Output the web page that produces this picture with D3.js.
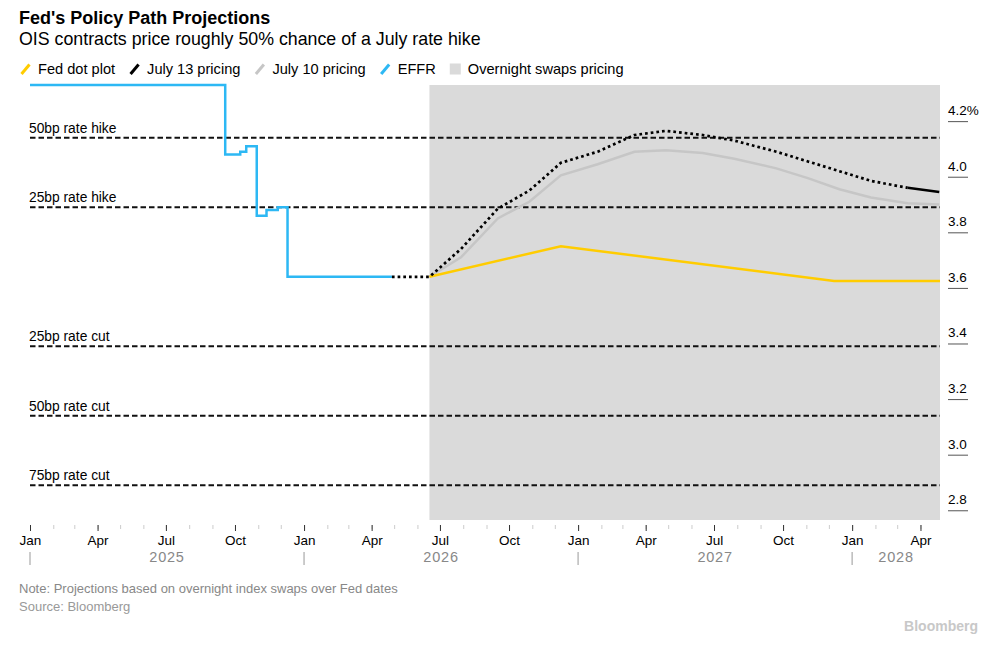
<!DOCTYPE html>
<html>
<head>
<meta charset="utf-8">
<script src="https://cdn.jsdelivr.net/npm/d3@7"></script>
<style>
    body { margin: 0; background: #fff; }
    svg text { font-family: "Liberation Sans", Arial, sans-serif; }
</style>
</head>
<body>
<div id="chart"></div>
<script>
/*
 * Effective fed funds rate, step values (value holds from date to next date).
 */
var effrDates  = ['2025-01-01', '2025-09-18', '2025-10-08', '2025-10-16', '2025-10-30',
                  '2025-11-12', '2025-11-27', '2025-12-10', '2026-04-28'];
var effrValues = [4.33, 4.08, 4.09, 4.11, 3.86, 3.88, 3.89, 3.64, 3.64];
/*
 * Overnight swaps pricing over FOMC meeting dates.
 */
var meetingDates = ['2026-06-17', '2026-07-29', '2026-09-16', '2026-10-28', '2026-12-09',
                    '2027-01-27', '2027-03-17', '2027-04-28', '2027-06-16', '2027-07-28',
                    '2027-09-22', '2027-11-03', '2027-12-15', '2028-01-26', '2028-03-15',
                    '2028-04-26'];
var july13Values = [3.64, 3.74, 3.885, 3.95, 4.05, 4.09, 4.15, 4.165, 4.15, 4.13,
                    4.09, 4.055, 4.02, 3.985, 3.96, 3.945];
var july10Values = [3.64, 3.71, 3.85, 3.91, 4.005, 4.045, 4.09, 4.095, 4.085, 4.065,
                    4.03, 3.995, 3.955, 3.925, 3.905, 3.90];
/*
 * Fed dot plot medians.
 */
var dotPlotDates  = ['2026-06-17', '2026-12-09', '2027-12-08', '2028-04-27'];
var dotPlotValues = [3.64, 3.75, 3.625, 3.625];
/*
 * Rate move reference levels relative to the current rate.
 */
var currentRate = 3.64;
var moveSizes   = [0.5, 0.25, -0.25, -0.5, -0.75];
var moveLabels  = ['50bp rate hike', '25bp rate hike', '25bp rate cut', '50bp rate cut', '75bp rate cut'];
/*
 * Axes.
 */
var xDomain = ['2025-01-01', '2028-04-27'];
var yDomain = [2.765, 4.33];
var yTicks  = [2.8, 3.0, 3.2, 3.4, 3.6, 3.8, 4.0, 4.2];
var years   = [2025, 2026, 2027, 2028];
var swapsStart = '2026-06-17';
var solidFrom  = '2028-03-15';
var legendLabels = ['Fed dot plot', 'July 13 pricing', 'July 10 pricing', 'EFFR', 'Overnight swaps pricing'];


/**
 * Policy path chart.
 * @public
 * @class
 */
function PolicyPathChart() {
    /**
     * Date parser.
     * @private
     * @member {Function}
     */
    this._parse = d3.timeParse('%Y-%m-%d');
    /**
     * Outer size.
     * @private
     * @member {Object}
     */
    this._size = { width: 994, height: 647 };
    /**
     * Plot box.
     * @private
     * @member {Object}
     */
    this._plot = { left: 30, right: 940, top: 85, bottom: 520 };
    /**
     * Series colors.
     * @private
     * @member {Object}
     */
    this._colors = {
        dot:   '#ffcc00',
        july13:'#000000',
        july10:'#c6c6c6',
        effr:  '#2db8f4',
        swaps: '#dadada'
    };
    /**
     * Scales.
     * @private
     */
    this._x = d3.scaleTime()
        .domain(xDomain.map(this._parse))
        .range([this._plot.left, this._plot.right]);
    this._y = d3.scaleLinear()
        .domain(yDomain)
        .range([this._plot.bottom, this._plot.top]);
    /**
     * Line generator.
     * @private
     * @member {Function}
     */
    this._line = d3.line()
        .x(d => this._x(d.date))
        .y(d => this._y(d.value));
}


/**
 * Zip dates and values into points.
 * @private
 * @returns {Object[]}
 */
PolicyPathChart.prototype._points = function(dates, values) {

    return dates.map((d, i) => ({ date: this._parse(d), value: values[i] }));
};


/**
 * Render chart.
 * @public
 * @param {String} selection
 * @returns {PolicyPathChart}
 */
PolicyPathChart.prototype.renderTo = function(selection) {

    var x = this._x, y = this._y, p = this._plot;

    this._svg = d3.select(selection).append('svg')
        .attr('width', this._size.width)
        .attr('height', this._size.height);
    /*
     * Titles.
     */
    this._svg.append('text')
        .attr('x', 19).attr('y', 24)
        .style('font-size', '18px').style('font-weight', 'bold')
        .text("Fed's Policy Path Projections");
    this._svg.append('text')
        .attr('x', 19).attr('y', 45)
        .style('font-size', '17.8px')
        .text('OIS contracts price roughly 50% chance of a July rate hike');
    /*
     * Legend.
     */
    this._renderLegend();
    /*
     * Shaded overnight swaps pricing area.
     */
    var swapsX = x(this._parse(swapsStart));
    this._svg.append('rect')
        .attr('x', swapsX).attr('y', p.top)
        .attr('width', p.right - swapsX).attr('height', p.bottom - p.top)
        .attr('fill', this._colors.swaps);
    /*
     * Rate move reference lines.
     */
    var refs = this._svg.append('g').selectAll('g')
        .data(moveSizes)
        .join('g')
        .attr('transform', d => 'translate(0,' + y(currentRate + d) + ')');
    refs.append('line')
        .attr('x1', p.left).attr('x2', p.right)
        .attr('stroke', '#111').attr('stroke-width', 2)
        .attr('stroke-dasharray', '5.5,3');
    refs.append('text')
        .attr('x', p.left - 1).attr('y', -5)
        .style('font-size', '13.8px')
        .text((d, i) => moveLabels[i]);
    /*
     * Series.
     */
    var july10 = this._points(meetingDates, july10Values);
    var july13 = [{ date: this._parse(effrDates[effrDates.length - 1]), value: currentRate }]
        .concat(this._points(meetingDates, july13Values));
    var solidDate = this._parse(solidFrom);

    this._svg.append('path')
        .attr('d', this._line(july10))
        .attr('fill', 'none').attr('stroke', this._colors.july10).attr('stroke-width', 2.5);
    this._svg.append('path')
        .attr('d', this._line(this._points(dotPlotDates, dotPlotValues)))
        .attr('fill', 'none').attr('stroke', this._colors.dot).attr('stroke-width', 2.5);
    this._svg.append('path')
        .attr('d', this._line.curve(d3.curveStepAfter)(this._points(effrDates, effrValues)))
        .attr('fill', 'none').attr('stroke', this._colors.effr).attr('stroke-width', 2.5);
    this._line.curve(d3.curveLinear);
    this._svg.append('path')
        .attr('d', this._line(july13.filter(d => d.date <= solidDate)))
        .attr('fill', 'none').attr('stroke', this._colors.july13).attr('stroke-width', 2.7)
        .attr('stroke-dasharray', '2.7,3');
    this._svg.append('path')
        .attr('d', this._line(july13.filter(d => d.date >= solidDate)))
        .attr('fill', 'none').attr('stroke', this._colors.july13).attr('stroke-width', 2.5);
    /*
     * Axes.
     */
    this._renderAxes();
    /*
     * Footer.
     */
    this._svg.append('text')
        .attr('x', 19).attr('y', 593)
        .style('font-size', '13px').attr('fill', '#888')
        .text('Note: Projections based on overnight index swaps over Fed dates');
    this._svg.append('text')
        .attr('x', 19).attr('y', 611)
        .style('font-size', '13px').attr('fill', '#999')
        .text('Source: Bloomberg');
    this._svg.append('text')
        .attr('x', 978).attr('y', 631).attr('text-anchor', 'end')
        .style('font-size', '14px').style('font-weight', 'bold').attr('fill', '#c8c8c8')
        .text('Bloomberg');

    return this;
};


/**
 * Render legend.
 * @private
 */
PolicyPathChart.prototype._renderLegend = function() {

    var colors = [this._colors.dot, this._colors.july13, this._colors.july10, this._colors.effr, this._colors.swaps];
    var cx = 20, cy = 69;

    legendLabels.forEach(function(label, i) {
        if (i === legendLabels.length - 1) {
            this._svg.append('rect')
                .attr('x', cx).attr('y', cy - 5.5).attr('width', 11).attr('height', 11)
                .attr('fill', colors[i]);
        } else {
            this._svg.append('line')
                .attr('x1', cx + 1.5).attr('y1', cy + 5)
                .attr('x2', cx + 9.5).attr('y2', cy - 4.5)
                .attr('stroke', colors[i]).attr('stroke-width', 3);
        }
        var text = this._svg.append('text')
            .attr('x', cx + 18).attr('y', cy + 5)
            .style('font-size', '14.6px')
            .text(label);
        cx += 18 + text.node().getComputedTextLength() + 14;
    }, this);
};


/**
 * Render axes.
 * @private
 */
PolicyPathChart.prototype._renderAxes = function() {

    var x = this._x, y = this._y;
    var domain = x.domain();
    var months = d3.timeMonth.range(domain[0], d3.timeDay.offset(domain[1], 1));
    var quarters = months.filter(d => d.getMonth() % 3 === 0);
    /*
     * Right value axis with underline ticks.
     */
    var yAxis = this._svg.append('g')
        .attr('transform', 'translate(948,0)')
        .call(d3.axisRight(y).tickValues(yTicks).tickSize(20)
            .tickFormat(d => d.toFixed(1) + (d === 4.2 ? '%' : '')));
    yAxis.select('.domain').remove();
    yAxis.attr('font-family', null).attr('font-size', null);
    yAxis.selectAll('.tick line').attr('stroke', '#555');
    yAxis.selectAll('.tick text')
        .attr('x', 0).attr('dy', -6.5)
        .attr('fill', '#000')
        .style('font-size', '13.5px');
    /*
     * Minor monthly ticks.
     */
    var minor = this._svg.append('g')
        .attr('transform', 'translate(0,525)')
        .call(d3.axisBottom(x).tickValues(months).tickSize(4).tickFormat(''));
    minor.select('.domain').remove();
    minor.selectAll('.tick line').attr('stroke', '#ccc');
    /*
     * Major quarterly ticks.
     */
    var major = this._svg.append('g')
        .attr('transform', 'translate(0,525)')
        .call(d3.axisBottom(x).tickValues(quarters).tickSize(6).tickPadding(4)
            .tickFormat(d3.timeFormat('%b')));
    major.select('.domain').remove();
    major.attr('font-family', null).attr('font-size', null);
    major.selectAll('.tick line').attr('stroke', '#333');
    major.selectAll('.tick text').attr('fill', '#000').style('font-size', '13.5px');
    /*
     * Year labels and separators.
     */
    var yearGroup = this._svg.append('g');
    years.forEach(function(year) {
        var start = new Date(year, 0, 1), end = new Date(year + 1, 0, 1);
        var x0 = x(start < domain[0] ? domain[0] : start);
        var x1 = x(end > domain[1] ? domain[1] : end);
        if (start >= domain[0]) {
            yearGroup.append('line')
                .attr('x1', x(start)).attr('x2', x(start))
                .attr('y1', 552).attr('y2', 565)
                .attr('stroke', '#bbb').attr('stroke-width', 1.5);
        }
        yearGroup.append('text')
            .attr('x', (x0 + x1) / 2).attr('y', 562)
            .attr('text-anchor', 'middle')
            .style('font-size', '14.5px').style('letter-spacing', '0.8px')
            .attr('fill', '#888')
            .text(year);
    });
};


new PolicyPathChart().renderTo('#chart');
</script>
</body>
</html>
